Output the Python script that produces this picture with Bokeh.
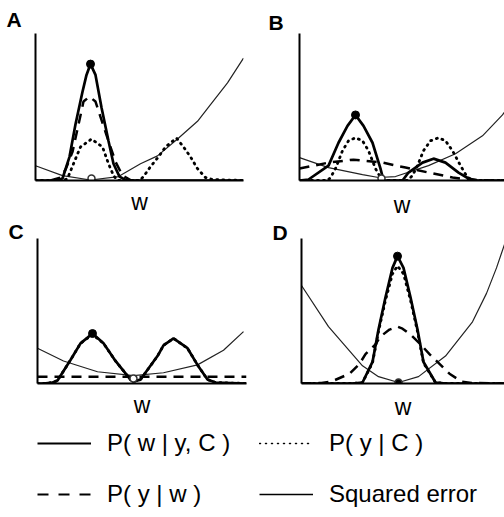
from bokeh.plotting import figure
from bokeh.layouts import column, row
from bokeh.models import Range1d, FixedTicker, Legend, LegendItem
from bokeh.embed import file_html
from bokeh.resources import INLINE

FONT = "Liberation Sans"

# ---------------- data (w and value in panel pixel units) ----
# Panel A
A_post_w = [0, 20, 27, 34, 40, 47, 51, 55, 60, 66, 73, 78, 84, 90, 100, 208]
A_post = [0, 0, 2, 24, 57, 90, 107, 118, 107, 74, 40, 17, 4, 0.5, 0, 0]
A_lik_w = [15, 25, 30, 37, 48, 54, 60, 71, 80, 87, 95, 105]
A_lik = [0, 3, 11, 29, 80, 85, 80, 46, 19, 5, 0.5, 0]
A_evid_w = [0, 28, 32, 38, 45, 56, 67, 73, 78, 82, 104, 108, 115, 123, 130, 141, 148, 155, 162, 170, 177, 208]
A_evid = [0, 0, 2, 17, 34, 42, 34, 17, 5, 0, 0, 4, 14, 24, 34, 43, 34, 24, 12, 3, 1, 0]
A_err_w = [0, 27, 55, 83, 105, 122, 142, 162, 175, 192, 208]
A_err = [15, 5, 0.5, 4, 17, 25, 42, 60, 77, 99, 124]
A_peak = ([55], [118])
A_best = ([56], [2])

# Panel B
B_post_w = [0, 9, 29, 39, 48, 56, 64, 73, 81, 84, 103, 109, 123, 134, 146, 159, 169, 178, 205]
B_post = [0, 1, 15, 38, 55, 66, 55, 38, 12, 0, 0, 8, 18, 22, 18, 8, 2, 0, 0]
B_lik_w = [0, 29, 54, 83, 106, 129, 153, 169, 191, 205]
B_lik = [12, 18, 21, 18, 13, 8, 3, 1, 0, 0]
B_evid_w = [0, 28, 31, 36, 43, 49, 56, 63, 69, 76, 81, 86, 108, 113, 118, 124, 131, 139, 146, 153, 161, 168, 175, 205]
B_evid = [0, 0, 3, 12, 30, 40, 43, 40, 30, 12, 3, 0, 0, 5, 15, 30, 40, 43, 40, 30, 15, 3, 0, 0]
B_err_w = [0, 29, 63, 79, 96, 129, 156, 183, 203, 205]
B_err = [23, 13, 6, 3, 4, 15, 27, 45, 66, 69]
B_peak = ([56], [66])
B_best = ([82], [2])

# Panel C
C_post_w = [0, 6, 15, 20, 33, 43, 55, 66, 78, 93, 96, 103, 120, 126, 136, 150, 160, 170, 178, 209]
C_post = [0, 0, 1, 3, 24, 41, 51, 41, 23, 4, 2, 4, 28, 39, 46, 36, 19, 4, 1, 0]
C_evid_w = [0, 6, 15, 20, 33, 43, 55, 66, 78, 93, 96, 103, 120, 126, 136, 150, 160, 170, 178, 209]
C_evid = [0, 0, 1, 3, 24, 41, 50, 41, 23, 4, 2, 4, 28, 39, 46, 36, 19, 4, 1, 0]
C_lik_w = [0, 209]
C_lik = [7, 7]
C_err_w = [0, 26, 60, 96, 126, 160, 186, 206]
C_err = [36, 23, 12, 8, 11, 19, 34, 53]
C_peak = ([55], [51])
C_best = ([96], [5])

# Panel D
D_post_w = [0, 50, 61, 71, 77, 84, 91, 96, 102, 109, 116, 122, 134, 145, 203]
D_post = [0, 0, 1, 22, 55, 88, 118, 130, 118, 88, 55, 22, 1, 0, 0]
D_evid_w = [0, 50, 61, 71, 77, 84, 91, 96, 102, 109, 116, 122, 134, 145, 203]
D_evid = [0, 0, 1, 21, 53, 85, 112, 120, 112, 85, 53, 21, 1, 0, 0]
D_lik_w = [0, 20, 30, 48, 58, 64, 74, 79, 88, 96, 101, 109, 119, 128, 138, 148, 160, 170, 203]
D_lik = [0, 0.5, 2, 10, 20, 30, 40, 48, 55, 58, 56, 50, 40, 30, 20, 10, 2, 0.5, 0]
D_err_w = [0, 27, 61, 77, 97, 117, 144, 171, 185, 195, 203]
D_err = [100, 58, 18, 7, 1, 7, 28, 63, 92, 118, 142]
D_peak = ([96], [130])
D_best = ([97], [1])

LEG_LABELS = ["P( w | y, C )", "P( y | C )", "P( y | w )", "Squared error"]


def panel(letter, width, height, bl, br, bt, bb, fw, fh, title_offset, title_standoff, label_standoff):
    p = figure(width=width, height=height, x_range=Range1d(0, fw), y_range=Range1d(0, fh),
               output_backend="svg", toolbar_location=None,
               min_border_left=bl, min_border_right=br, min_border_top=bt, min_border_bottom=bb,
               title=letter)
    p.grid.visible = False
    p.outline_line_color = None
    p.background_fill_color = "white"
    p.border_fill_color = "white"
    for ax in (p.xaxis[0], p.yaxis[0]):
        ax.ticker = FixedTicker(ticks=[])
        ax.major_tick_line_color = None
        ax.minor_tick_line_color = None
        ax.major_tick_out = 0
        ax.major_tick_in = 0
        ax.minor_tick_out = 0
        ax.major_label_standoff = 0
        ax.axis_line_width = 2
        ax.axis_line_color = "black"
    p.xaxis.axis_label = "w"
    p.xaxis.axis_label_text_font = FONT
    p.xaxis.axis_label_text_font_size = "23px"
    p.xaxis.axis_label_text_font_style = "normal"
    p.xaxis.axis_label_text_color = "black"
    p.xaxis.axis_label_standoff = label_standoff
    p.title.text_font = FONT
    p.title.text_font_size = "21px"
    p.title.text_font_style = "bold"
    p.title.text_color = "black"
    p.title.align = "left"
    p.title.offset = title_offset
    p.title.standoff = title_standoff
    return p


def draw(p, post_w, post, lik_w, lik, evid_w, evid, err_w, err, peak, best, best_fill):
    p.line(err_w, err, line_color="#222222", line_width=1.2)
    p.line(lik_w, lik, line_color="black", line_width=2.5, line_dash="10 7")
    p.line(evid_w, evid, line_color="black", line_width=2.8, line_dash="1 5", line_cap="round")
    p.line(post_w, post, line_color="black", line_width=2.7)
    p.scatter(peak[0], peak[1], size=8, color="black")
    p.scatter(best[0], best[1], size=7, line_color="#333333", line_width=1.5,
              fill_color="black" if best_fill else "white")


pA = panel("A", 268, 221, 35, 25, 33, 39, 208, 149, -29, 5, 8)
draw(pA, A_post_w, A_post, A_lik_w, A_lik, A_evid_w, A_evid, A_err_w, A_err, A_peak, A_best, False)
pB = panel("B", 236, 221, 31, 0, 32, 41, 205, 148, -31, 0, 11)
draw(pB, B_post_w, B_post, B_lik_w, B_lik, B_evid_w, B_evid, B_err_w, B_err, B_peak, B_best, False)
pC = panel("C", 268, 205, 37, 22, 17, 40, 209, 148, -29, -8, 8)
draw(pC, C_post_w, C_post, C_lik_w, C_lik, C_evid_w, C_evid, C_err_w, C_err, C_peak, C_best, False)
pD = panel("D", 236, 205, 33, 0, 14, 43, 203, 148, -29, -11, 10)
draw(pD, D_post_w, D_post, D_lik_w, D_lik, D_evid_w, D_evid, D_err_w, D_err, D_peak, D_best, True)

# ---------------- legend ----------------
pl = figure(width=504, height=91, x_range=Range1d(0, 1), y_range=Range1d(0, 1),
            output_backend="svg", toolbar_location=None, x_axis_type=None, y_axis_type=None,
            min_border=0)
pl.grid.visible = False
pl.outline_line_color = None
hidden = ([-5, -4], [-5, -4])
r_post = pl.line(*hidden, line_color="black", line_width=2)
r_evid = pl.line(*hidden, line_color="black", line_width=1.5, line_dash="1 5", line_cap="round")
r_lik = pl.line(*hidden, line_color="black", line_width=2, line_dash="11 10")
r_err = pl.line(*hidden, line_color="black", line_width=1.5)


def make_legend(items, y):
    lg = Legend(items=items, location=(37, y), orientation="horizontal",
                glyph_width=54, glyph_height=20, label_standoff=16, label_width=152,
                spacing=0, padding=0, margin=0, border_line_color=None,
                background_fill_alpha=0, label_text_font=FONT, label_text_font_size="24px",
                label_text_color="black")
    pl.add_layout(lg, "center")


make_legend([LegendItem(label=LEG_LABELS[0], renderers=[r_post]),
             LegendItem(label=LEG_LABELS[1], renderers=[r_evid])], 60)
make_legend([LegendItem(label=LEG_LABELS[2], renderers=[r_lik]),
             LegendItem(label=LEG_LABELS[3], renderers=[r_err])], 9)

layout = column(row(pA, pB), row(pC, pD), pl)
open("out.html", "w").write(file_html(layout, INLINE))
